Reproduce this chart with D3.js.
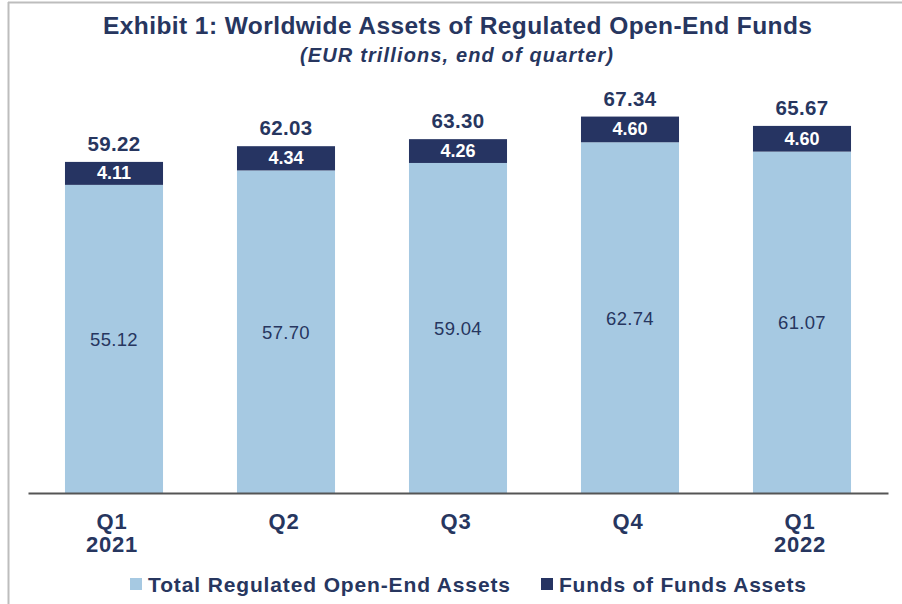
<!DOCTYPE html>
<html><head><meta charset="utf-8">
<script src="https://cdn.jsdelivr.net/npm/d3@7"></script>
<style>
html,body{margin:0;padding:0;background:#fff;}
svg{display:block;font-family:"Liberation Sans",Arial,sans-serif;}
</style></head>
<body>
<svg id="chart" width="902" height="604"></svg>
<script>
const categories = ["Q1|2021", "Q2", "Q3", "Q4", "Q1|2022"];
const regulatedAssets = [55.12, 57.70, 59.04, 62.74, 61.07];
const fundsOfFunds = [4.11, 4.34, 4.26, 4.60, 4.60];
const totals = [59.22, 62.03, 63.30, 67.34, 65.67];
const seriesNames = ["Total Regulated Open-End Assets", "Funds of Funds Assets"];

const LIGHT = "#a6c9e2", DARK = "#263462", NAVY = "#27365f";
const svg = d3.select("#chart");

// frame (left & top borders)
svg.append("line").attr("x1",8.5).attr("x2",8.5).attr("y1",2).attr("y2",604).attr("stroke","#bdbdbd").attr("stroke-width",2);
svg.append("line").attr("x1",8).attr("x2",902).attr("y1",2.5).attr("y2",2.5).attr("stroke","#bdbdbd").attr("stroke-width",2);

svg.append("text").attr("x",103).attr("y",34).attr("textLength",709).attr("lengthAdjust","spacing")
  .attr("font-size",24.5).attr("font-weight","bold").attr("fill",NAVY)
  .text("Exhibit 1: Worldwide Assets of Regulated Open-End Funds");
svg.append("text").attr("x",300).attr("y",62).attr("textLength",313).attr("lengthAdjust","spacing")
  .attr("font-size",20).attr("font-weight","bold").attr("font-style","italic").attr("fill",NAVY)
  .text("(EUR trillions, end of quarter)");

const x = d3.scaleBand().domain(categories).range([28, 888]).paddingInner(0.43).paddingOuter(0.215);
const y = d3.scaleLinear().domain([0, 80]).range([493, 493 - 5.59*80]);

const g = svg.append("g");
categories.forEach((c,i)=>{
  const bx = x(c), bw = x.bandwidth();
  const y0 = y(0), y1 = y(regulatedAssets[i]), y2 = y(regulatedAssets[i] + fundsOfFunds[i]);
  g.append("rect").attr("x",bx).attr("width",bw).attr("y",y1).attr("height",y0-y1).attr("fill",LIGHT);
  g.append("rect").attr("x",bx).attr("width",bw).attr("y",y2).attr("height",y1-y2).attr("fill",DARK);
  g.append("text").attr("x",bx+bw/2).attr("y",(y0+y1)/2+7).attr("text-anchor","middle")
    .attr("font-size",18.5).attr("letter-spacing",0.3).attr("fill",NAVY).text(regulatedAssets[i].toFixed(2));
  g.append("text").attr("x",bx+bw/2).attr("y",(y1+y2)/2+6).attr("text-anchor","middle")
    .attr("font-size",18).attr("font-weight","bold").attr("fill","#fff").text(fundsOfFunds[i].toFixed(2));
  g.append("text").attr("x",bx+bw/2).attr("y",y2-11).attr("text-anchor","middle")
    .attr("font-size",20.5).attr("font-weight","bold").attr("letter-spacing",0.3).attr("fill",NAVY).text(totals[i].toFixed(2));
});

// x axis
const xAxis = d3.axisBottom(x).tickSize(0).tickFormat("");
const ax = svg.append("g").attr("transform","translate(0,493)").call(xAxis);
ax.select(".domain").attr("stroke","#555").attr("stroke-width",2);
ax.selectAll(".tick").each(function(d){
  const parts = d.split("|");
  const t = d3.select(this).append("text").attr("text-anchor","middle").attr("fill",NAVY)
    .attr("font-size",22).attr("font-weight","bold").attr("letter-spacing",0.8)
    .attr("font-family","Liberation Sans, Arial, sans-serif");
  parts.forEach((p,k)=> t.append("tspan").attr("x",-2).attr("y",36 + k*23).text(p));
});

// legend
const leg = svg.append("g");
const legColors = [LIGHT, DARK];
const legX = [130, 541];
const legLen = [362, 247];
seriesNames.forEach((n,i)=>{
  leg.append("rect").attr("x",legX[i]).attr("y",578).attr("width",12).attr("height",12).attr("fill",legColors[i]);
  leg.append("text").attr("x",legX[i]+18).attr("y",591.5).attr("textLength",legLen[i]).attr("lengthAdjust","spacing")
    .attr("font-size",21).attr("font-weight","bold").attr("fill",NAVY).text(n);
});
</script>
</body></html>
